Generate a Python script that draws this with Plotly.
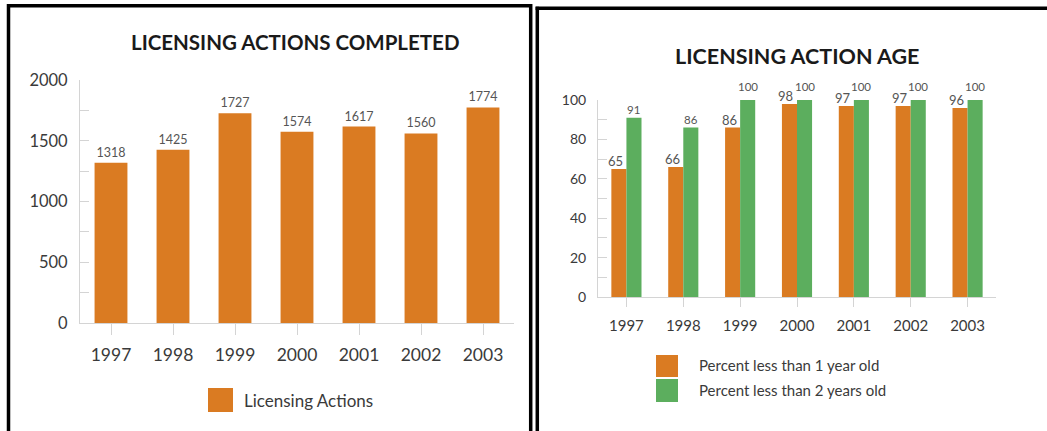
import plotly.graph_objects as go

# ---------------- data ----------------
years = ["1997", "1998", "1999", "2000", "2001", "2002", "2003"]
licensing_actions = [1318, 1425, 1727, 1574, 1617, 1560, 1774]
pct_lt_1yr = [65, 66, 86, 98, 97, 97, 96]
pct_lt_2yr = [91, 86, 100, 100, 100, 100, 100]

title_left = "LICENSING ACTIONS COMPLETED"
title_right = "LICENSING ACTION AGE"
name_left = "Licensing Actions"
name_1yr = "Percent less than 1 year old"
name_2yr = "Percent less than 2 years old"

left_ticks = [0, 500, 1000, 1500, 2000]
right_ticks = [0, 20, 40, 60, 80, 100]

# ---------------- style ----------------
W, H = 1047, 431
ORANGE = "#DA7B22"
GREEN = "#5CAE5E"
AXIS = "#D4D4D4"
TXT = "#3A3A3A"
LBL = "#555555"
FONT = "Lato"
BARGAP = 0.47
X2_DOM = (598, 996)


def px(x):
    return x / W


def py(y):
    return 1 - y / H


fig = go.Figure()

fig.add_trace(go.Bar(
    x=years, y=licensing_actions, name=name_left,
    marker=dict(color=ORANGE, line=dict(width=0)),
    text=[str(v) for v in licensing_actions], textposition="outside",
    constraintext="none",
    textfont=dict(size=12.5, color=LBL, family=FONT), cliponaxis=False,
    xaxis="x", yaxis="y", showlegend=False,
))
fig.add_trace(go.Bar(
    x=years, y=pct_lt_1yr, name=name_1yr,
    marker=dict(color=ORANGE, line=dict(width=0)),
    xaxis="x2", yaxis="y2", showlegend=False, offsetgroup="a",
))
fig.add_trace(go.Bar(
    x=years, y=pct_lt_2yr, name=name_2yr,
    marker=dict(color=GREEN, line=dict(width=0)),
    xaxis="x2", yaxis="y2", showlegend=False, offsetgroup="b",
))

xcommon = dict(
    type="category", range=[-0.5, 6.5], showline=True, linecolor=AXIS, linewidth=1,
    ticks="outside", tickcolor=AXIS, ticklen=11, showgrid=False, zeroline=False,
    fixedrange=True,
)
ycommon = dict(
    showline=True, linecolor=AXIS, linewidth=1, ticks="inside", tickcolor=AXIS,
    ticklen=9, showgrid=False, zeroline=False, fixedrange=True,
)

fig.update_layout(
    width=W, height=H, margin=dict(l=0, r=0, t=0, b=0, autoexpand=False),
    paper_bgcolor="white", plot_bgcolor="white",
    font=dict(family=FONT, color=TXT),
    barmode="group",
    bargap=BARGAP, bargroupgap=0,
    xaxis=dict(xcommon, domain=[px(80), px(514)], anchor="y",
               tickfont=dict(size=17.5, color=TXT), ticklabelstandoff=5),
    yaxis=dict(ycommon, domain=[py(323), py(80)], anchor="x", range=[0, 2000],
               tickvals=left_ticks, tickfont=dict(size=16.5, color=TXT),
               ticklabelstandoff=8,
               minor=dict(tickvals=[250, 750, 1250, 1750], ticks="inside",
                          ticklen=9, tickcolor=AXIS)),
    xaxis2=dict(xcommon, domain=[px(X2_DOM[0]), px(X2_DOM[1])], anchor="y2",
                tickfont=dict(size=15, color=TXT), ticklabelstandoff=6, ticklen=9),
    yaxis2=dict(ycommon, domain=[py(297), py(100)], anchor="x2", range=[0, 100],
                tickvals=right_ticks, tickfont=dict(size=14, color=TXT),
                ticklabelstandoff=8,
                minor=dict(tickvals=[10, 30, 50, 70, 90], ticks="inside",
                           ticklen=9, tickcolor=AXIS)),
)

annotations = [
    dict(text="<b>" + title_left + "</b>", x=px(295), y=py(42), xref="paper", yref="paper",
         showarrow=False, font=dict(size=20.5, color="#1a1a1a", family=FONT),
         xanchor="center", yanchor="middle"),
    dict(text="<b>" + title_right + "</b>", x=px(797), y=py(56), xref="paper", yref="paper",
         showarrow=False, font=dict(size=21.5, color="#1a1a1a", family=FONT),
         xanchor="center", yanchor="middle"),
    dict(text=name_left, x=px(242), y=py(400), xref="paper", yref="paper",
         showarrow=False, font=dict(size=17, color=TXT, family=FONT),
         xanchor="left", yanchor="middle"),
    dict(text=name_1yr, x=px(697), y=py(365), xref="paper", yref="paper",
         showarrow=False, font=dict(size=15, color=TXT, family=FONT),
         xanchor="left", yanchor="middle"),
    dict(text=name_2yr, x=px(697), y=py(390), xref="paper", yref="paper",
         showarrow=False, font=dict(size=15, color=TXT, family=FONT),
         xanchor="left", yanchor="middle"),
]

# value labels for the grouped chart, anchored to the data through the axes
# (category axis: position = serial index of the category)
cat_px = (X2_DOM[1] - X2_DOM[0]) / len(years)
bar_px = (1 - BARGAP) * cat_px / 2
for i, (v1, v2) in enumerate(zip(pct_lt_1yr, pct_lt_2yr)):
    annotations.append(dict(
        text=str(v1), x=i, y=v1, xref="x2", yref="y2", showarrow=False,
        xshift=-bar_px / 2 - 3.5, yshift=8, xanchor="center", yanchor="middle",
        font=dict(size=13, color=LBL, family=FONT)))
    lift = 14 if (v2 - v1) < 15 else 8
    annotations.append(dict(
        text=str(v2), x=i, y=v2, xref="x2", yref="y2", showarrow=False,
        xshift=bar_px / 2, yshift=lift, xanchor="center", yanchor="middle",
        font=dict(size=11.5, color=LBL, family=FONT)))

fig.update_layout(annotations=annotations)

shapes = [
    # legend swatches
    dict(type="rect", xref="paper", yref="paper", x0=px(208), x1=px(233), y0=py(412), y1=py(388),
         fillcolor=ORANGE, line=dict(width=0)),
    dict(type="rect", xref="paper", yref="paper", x0=px(656), x1=px(678), y0=py(377), y1=py(355),
         fillcolor=ORANGE, line=dict(width=0)),
    dict(type="rect", xref="paper", yref="paper", x0=px(656), x1=px(678), y0=py(402), y1=py(379),
         fillcolor=GREEN, line=dict(width=0)),
    # panel borders
    dict(type="line", xref="paper", yref="paper", x0=px(8.5), x1=px(8.5), y0=py(4), y1=-0.05,
         line=dict(color="black", width=3.5)),
    dict(type="line", xref="paper", yref="paper", x0=px(7), x1=px(532), y0=py(5.7), y1=py(5.7),
         line=dict(color="black", width=3.5)),
    dict(type="line", xref="paper", yref="paper", x0=px(530.7), x1=px(530.7), y0=py(4), y1=-0.05,
         line=dict(color="black", width=3.5)),
    dict(type="line", xref="paper", yref="paper", x0=px(537.3), x1=px(537.3), y0=py(6.7), y1=-0.05,
         line=dict(color="black", width=3.5)),
    dict(type="line", xref="paper", yref="paper", x0=px(535.6), x1=1.02, y0=py(8.3), y1=py(8.3),
         line=dict(color="black", width=3.5)),
]
fig.update_layout(shapes=shapes)

# pin the figure to the top-left corner of the page (no default body margin)
post = (
    "document.documentElement.style.margin='0';"
    "document.body.style.margin='0';"
    "document.body.style.overflow='hidden';"
    "var gd=document.getElementById('{plot_id}');"
    "gd.style.position='fixed';gd.style.left='0px';gd.style.top='0px';"
)

fig.write_html("out.html", post_script=post, config={"displayModeBar": False})
